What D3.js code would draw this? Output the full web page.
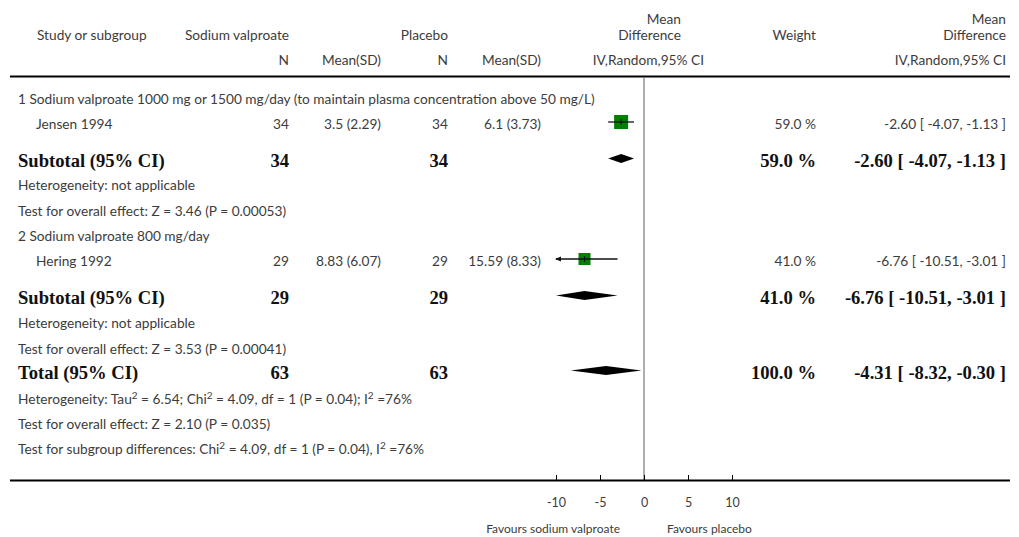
<!DOCTYPE html>
<html>
<head>
<meta charset="utf-8">
<script src="https://cdn.jsdelivr.net/npm/d3@7"></script>
<style>
  html, body { margin: 0; padding: 0; background: #fff; }
  svg { display: block; }
  .reg { font-family: Lato, "Open Sans", sans-serif; font-size: 13.7px; fill: #3c3c3c; }
  .bold { font-family: "Liberation Serif", "DejaVu Serif", serif; font-weight: bold; font-size: 18.6px; fill: #111; }
</style>
</head>
<body>
<svg id="chart" width="1019" height="537"></svg>
<script>
// Studies and their group summaries
const studies = ["Jensen 1994", "Hering 1992"];
const subgroups = [
  "1 Sodium valproate 1000 mg or 1500 mg/day (to maintain plasma concentration above 50 mg/L)",
  "2 Sodium valproate 800 mg/day"
];
const nValproate = [34, 29];
const meanValproate = ["3.5 (2.29)", "8.83 (6.07)"];
const nPlacebo = [34, 29];
const meanPlacebo = ["6.1 (3.73)", "15.59 (8.33)"];
const md = [-2.60, -6.76];
const ciLow = [-4.07, -10.51];
const ciHigh = [-1.13, -3.01];
const weight = [59.0, 41.0];

// Pooled (random-effects) estimates
const totalN = [63, 63];
const totalMd = -4.31, totalLow = -8.32, totalHigh = -0.30, totalWeight = 100.0;

const subgroupNotes = [
  ["Heterogeneity: not applicable", "Test for overall effect: Z = 3.46 (P = 0.00053)"],
  ["Heterogeneity: not applicable", "Test for overall effect: Z = 3.53 (P = 0.00041)"]
];
const totalNotes = [
  "Heterogeneity: Tau² = 6.54; Chi² = 4.09, df = 1 (P = 0.04); I² =76%",
  "Test for overall effect: Z = 2.10 (P = 0.035)",
  "Test for subgroup differences: Chi² = 4.09, df = 1 (P = 0.04), I² =76%"
];

const axisTicks = [-10, -5, 0, 5, 10];
const axisDomain = [-10, 10];

const svg = d3.select("#chart");
const x = d3.scaleLinear().domain(axisDomain).range([556, 732]);
const clampX = v => x(Math.max(axisDomain[0], Math.min(axisDomain[1], v)));

// Column anchors
const col = { name: 18, study: 36, nV: 289, mV: 381, nP: 448, mP: 541, w: 816, ci: 1006 };

function txt(xp, yp, s, cls, anchor) {
  return svg.append("text").attr("class", cls).attr("x", xp).attr("y", yp)
    .attr("text-anchor", anchor || "start").text(s);
}
// text with "²" drawn as a raised, smaller 2
function txtSup(xp, yp, s) {
  const t = svg.append("text").attr("class", "reg").attr("x", xp).attr("y", yp);
  s.split("²").forEach((part, k) => {
    if (k > 0) t.append("tspan").attr("dy", -5).style("font-size", "10px").text("2");
    t.append("tspan").attr("dy", k > 0 ? 5 : 0).text(part);
  });
  return t;
}
// plain hyphen for negatives, as in the printed table
const fmt2 = v => (v < 0 ? "-" : "") + Math.abs(v).toFixed(2);
const ciText = (m, l, h) => `${fmt2(m)} [ ${fmt2(l)}, ${fmt2(h)} ]`;
const wText = w => `${w.toFixed(1)} %`;

// Header
txt(37, 40, "Study or subgroup", "reg");
txt(col.nV, 40, "Sodium valproate", "reg", "end");
txt(col.nP, 40, "Placebo", "reg", "end");
txt(681, 24, "Mean", "reg", "end");
txt(681, 40, "Difference", "reg", "end");
txt(col.w, 40, "Weight", "reg", "end");
txt(col.ci, 24, "Mean", "reg", "end");
txt(col.ci, 40, "Difference", "reg", "end");
txt(col.nV, 65, "N", "reg", "end");
txt(col.mV, 65, "Mean(SD)", "reg", "end");
txt(col.nP, 65, "N", "reg", "end");
txt(col.mP, 65, "Mean(SD)", "reg", "end");
txt(704, 65, "IV,Random,95% CI", "reg", "end");
txt(col.ci, 65, "IV,Random,95% CI", "reg", "end");

svg.append("line").attr("x1", 10).attr("x2", 1010).attr("y1", 76.5).attr("y2", 76.5)
  .attr("stroke", "#000").attr("stroke-width", 2);

// Line of no effect
svg.append("line").attr("x1", x(0)).attr("x2", x(0)).attr("y1", 77).attr("y2", 480)
  .attr("stroke", "#777").attr("stroke-width", 1.2);

// Row layout (baselines)
const layout = [
  { head: 104, study: 129, sub: 167, notes: [190, 216] },
  { head: 241, study: 266, sub: 304, notes: [328, 354] }
];
const squareSize = [14, 12];

function diamond(m, l, h, yc) {
  const hh = 4.5;
  svg.append("path")
    .attr("d", `M${clampX(l)},${yc} L${x(m)},${yc - hh} L${clampX(h)},${yc} L${x(m)},${yc + hh} Z`)
    .attr("fill", "#000");
}

studies.forEach((s, i) => {
  const L = layout[i];
  txt(col.name, L.head, subgroups[i], "reg");
  txt(col.study, L.study, s, "reg");
  txt(col.nV, L.study, nValproate[i], "reg", "end");
  txt(col.mV, L.study, meanValproate[i], "reg", "end");
  txt(col.nP, L.study, nPlacebo[i], "reg", "end");
  txt(col.mP, L.study, meanPlacebo[i], "reg", "end");
  txt(col.w, L.study, wText(weight[i]), "reg", "end");
  txt(col.ci, L.study, ciText(md[i], ciLow[i], ciHigh[i]), "reg", "end");

  // study estimate: square + CI line
  const yc = L.study - 7;
  const sz = squareSize[i];
  svg.append("rect").attr("x", x(md[i]) - sz / 2).attr("y", yc - sz / 2)
    .attr("width", sz).attr("height", sz).attr("fill", "#008000");
  const lx = clampX(ciLow[i]), hx = clampX(ciHigh[i]);
  svg.append("line").attr("x1", lx).attr("x2", hx).attr("y1", yc).attr("y2", yc)
    .attr("stroke", "#111").attr("stroke-width", 1.3);
  svg.append("line").attr("x1", x(md[i])).attr("x2", x(md[i])).attr("y1", yc - 3).attr("y2", yc + 3)
    .attr("stroke", "#111").attr("stroke-width", 1);
  if (ciLow[i] < axisDomain[0]) {
    svg.append("path").attr("d", `M${lx - 1},${yc} L${lx + 5},${yc - 2.5} L${lx + 5},${yc + 2.5} Z`).attr("fill", "#111");
  }
  if (ciHigh[i] > axisDomain[1]) {
    svg.append("path").attr("d", `M${hx + 1},${yc} L${hx - 5},${yc - 2.5} L${hx - 5},${yc + 2.5} Z`).attr("fill", "#111");
  }

  // subtotal
  txt(col.name, L.sub, "Subtotal (95% CI)", "bold");
  txt(col.nV, L.sub, nValproate[i], "bold", "end");
  txt(col.nP, L.sub, nPlacebo[i], "bold", "end");
  txt(col.w, L.sub, wText(weight[i]), "bold", "end");
  txt(col.ci, L.sub, ciText(md[i], ciLow[i], ciHigh[i]), "bold", "end");
  diamond(md[i], ciLow[i], ciHigh[i], L.sub - 8.5);
  subgroupNotes[i].forEach((n, j) => txt(col.name, L.notes[j], n, "reg"));
});

// Overall total
const totalY = 379;
txt(col.name, totalY, "Total (95% CI)", "bold");
txt(col.nV, totalY, totalN[0], "bold", "end");
txt(col.nP, totalY, totalN[1], "bold", "end");
txt(col.w, totalY, wText(totalWeight), "bold", "end");
txt(col.ci, totalY, ciText(totalMd, totalLow, totalHigh), "bold", "end");
diamond(totalMd, totalLow, totalHigh, totalY - 8.5);
[404, 429, 454].forEach((yy, j) => txtSup(col.name, yy, totalNotes[j]));

// Bottom axis
svg.append("line").attr("x1", 10).attr("x2", 1010).attr("y1", 480.5).attr("y2", 480.5)
  .attr("stroke", "#000").attr("stroke-width", 2);
const axis = d3.axisBottom(x).tickValues(axisTicks).tickSize(-5).tickPadding(0);
const gAxis = svg.append("g").attr("transform", "translate(0,480)").call(axis);
gAxis.select(".domain").remove();
gAxis.selectAll(".tick line").attr("stroke", "#000").attr("stroke-width", 1);
gAxis.selectAll(".tick text").attr("class", "reg").attr("y", 27).attr("dy", null)
  .style("font-size", "12.5px").text(d => d < 0 ? "-" + Math.abs(d) : d);
txt(620, 533, "Favours sodium valproate", "reg", "end").style("font-size", "12px");
txt(667, 533, "Favours placebo", "reg").style("font-size", "12px");
</script>
</body>
</html>
